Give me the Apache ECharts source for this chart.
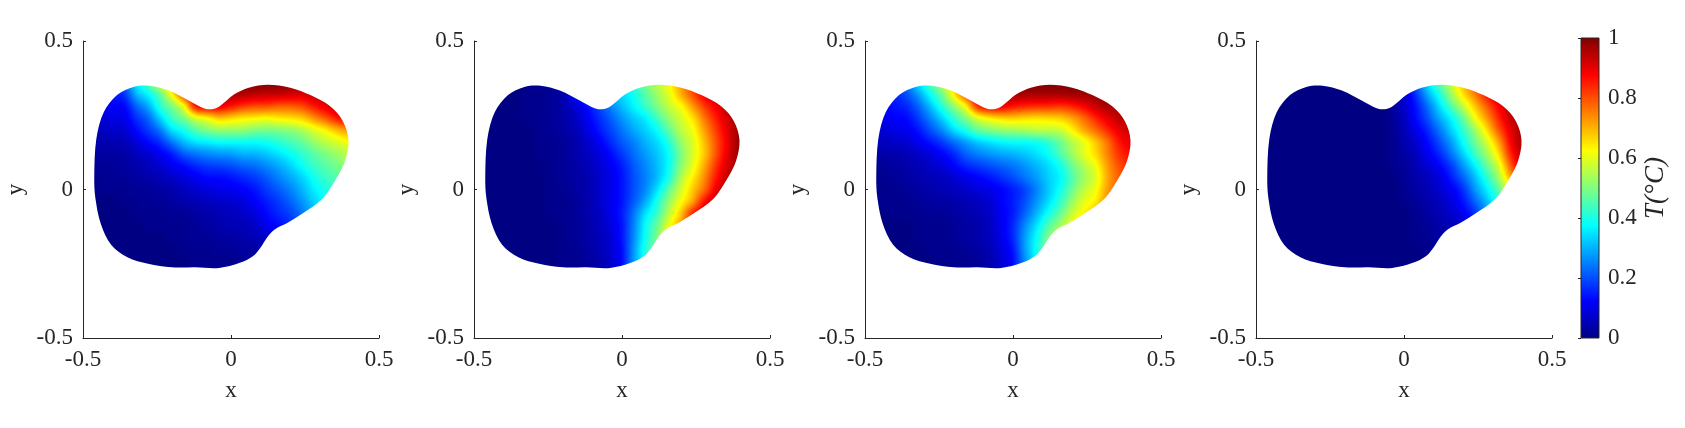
<!DOCTYPE html>
<html>
<head>
<meta charset="utf-8">
<title>T field</title>
<script src="https://cdn.jsdelivr.net/npm/echarts@6/dist/echarts.min.js"></script>
<style>
  html, body { margin: 0; padding: 0; background: #fff; }
  #main { width: 1685px; height: 428px; }
</style>
</head>
<body>
<div id="main"></div>
<script>
// sample positions of the temperature readings
var xSamples = [-0.48,-0.44,-0.40,-0.36,-0.32,-0.28,-0.24,-0.20,-0.16,-0.12,-0.08,-0.04,0,0.04,0.08,0.12,0.16,0.20,0.24,0.28,0.32,0.36,0.40];
var ySamples = [0.36,0.32,0.28,0.24,0.20,0.16,0.12,0.08,0.04,0,-0.04,-0.08,-0.12,-0.16,-0.20,-0.24,-0.28];

// temperature in percent of full scale, top row first
var tempA = [
[12,12,16,22,36,46,60,72,85,92,94,97,100,100,100,100,100,98,98,98,97,97,97],
[11,11,15,17,30,37,46,62,82,90,92,95,96,95,94,93,93,92,91,93,94,96,96],
[10,10,12,12,22,29,41,49,60,87,90,90,86,82,80,80,78,78,80,85,90,93,95],
[8,8,10,10,17,22,33,43,49,58,62,68,66,64,63,62,64,65,67,73,79,86,90],
[6,6,7,8,13,18,24,35,39,46,50,52,52,52,50,49,50,51,54,59,63,69,73],
[4,4,5,5,9,13,17,24,31,35,36,38,38,38,38,39,41,44,47,52,56,59,62],
[3,3,3,3,6,8,11,15,21,24,26,27,28,30,30,32,35,38,42,46,50,53,56],
[2,2,2,3,4,6,8,11,13,16,18,19,20,22,23,26,29,33,38,43,46,49,52],
[1,1,2,2,3,4,5,7,9,11,13,13,14,16,18,21,25,29,33,39,43,46,49],
[1,1,1,1,2,2,3,4,6,8,9,10,11,12,14,18,21,25,30,36,40,43,46],
[0,0,0,1,1,2,2,3,4,5,6,7,8,9,12,15,18,22,27,33,38,41,44],
[0,0,0,0,1,1,1,2,2,3,4,5,6,7,9,13,16,19,24,30,35,38,42],
[0,0,0,0,0,1,1,1,1,2,3,4,5,5,7,11,13,16,21,27,32,36,40],
[0,0,0,0,0,0,0,1,1,2,2,3,3,4,5,7,10,13,18,24,30,34,38],
[0,0,0,0,0,0,0,0,1,1,1,2,2,3,3,4,7,10,15,20,26,30,34],
[0,0,0,0,0,0,0,0,0,1,1,1,1,2,2,2,5,8,12,17,22,26,30],
[0,0,0,0,0,0,0,0,0,0,1,1,1,1,1,1,3,5,10,14,18,22,26]
];
var tempB = [
[0,0,0,0,1,1,2,3,5,8,14,22,33,42,50,56,62,72,80,88,92,96,98],
[0,0,0,0,1,1,2,4,12,19,24,29,34,39,46,53,60,70,80,89,93,96,98],
[0,0,0,0,1,1,2,4,8,13,19,25,31,37,43,50,57,62,72,82,89,95,98],
[0,0,0,0,1,1,2,3,6,11,16,21,27,32,36,44,52,58,65,76,85,92,98],
[0,0,0,0,0,1,2,3,5,9,14,19,24,29,33,38,47,56,61,72,82,91,98],
[0,0,0,0,0,1,1,2,4,7,11,16,21,25,30,34,41,52,59,69,80,90,99],
[0,0,0,0,0,1,1,2,4,6,9,13,18,23,28,32,38,50,59,68,80,91,98],
[0,0,0,0,0,0,1,2,3,5,8,11,15,21,26,31,38,51,60,71,83,92,98],
[0,0,0,0,0,0,1,2,3,4,7,10,14,20,25,31,40,55,64,74,86,94,98],
[0,0,0,0,0,0,1,1,3,4,7,10,14,20,26,35,47,58,68,77,90,96,98],
[0,0,0,0,0,0,1,1,2,4,7,10,14,21,29,40,52,62,71,87,94,98,98],
[0,0,0,0,0,0,1,1,2,4,6,10,15,24,35,43,56,68,85,92,95,98,98],
[0,0,0,0,0,0,0,1,2,3,6,9,14,25,38,48,61,72,85,92,95,98,98],
[0,0,0,0,0,0,0,1,2,3,5,8,14,26,39,50,63,74,85,92,95,98,98],
[0,0,0,0,0,0,0,1,1,3,5,8,13,27,41,50,60,70,80,90,90,95,95],
[0,0,0,0,0,0,0,1,1,2,4,7,13,28,40,50,60,70,80,90,90,95,95],
[0,0,0,0,0,0,0,1,1,2,4,7,13,28,40,50,60,70,80,90,90,95,95]
];
var tempC = [
[14,14,18,24,35,45,56,66,80,92,95,97,100,100,100,100,100,100,100,100,100,100,100],
[12,12,16,20,28,38,48,64,80,90,93,95,96,96,96,96,96,97,97,98,99,98,96],
[12,12,14,16,22,31,41,51,62,84,90,90,86,84,83,83,82,84,88,93,96,96,95],
[11,11,12,13,18,25,33,42,50,59,63,66,67,66,65,66,67,71,77,84,90,94,94],
[8,8,10,11,14,20,26,34,40,47,50,52,53,54,56,56,57,63,71,77,84,90,93],
[6,6,7,8,11,14,18,23,28,32,35,37,38,38,39,42,48,55,60,68,76,86,90],
[4,4,4,5,7,9,12,16,22,25,27,29,30,32,35,38,45,53,60,66,75,83,87],
[2,2,3,4,5,7,9,12,16,18,20,22,24,27,30,34,39,48,55,61,72,80,85],
[1,1,2,3,4,5,6,8,10,12,14,17,20,24,28,33,37,45,53,59,71,79,84],
[1,1,1,2,3,4,5,6,7,9,10,12,15,19,25,32,39,48,56,61,72,79,84],
[1,1,1,1,2,3,3,4,5,6,8,12,15,20,27,34,42,52,60,64,74,80,84],
[0,0,1,1,1,2,2,3,4,5,7,11,15,22,30,39,47,57,63,70,76,80,84],
[0,0,0,0,1,1,1,2,3,4,6,11,16,26,35,45,53,62,70,75,80,82,84],
[0,0,0,0,1,1,1,2,3,4,6,10,16,28,38,50,58,65,70,75,80,82,84],
[0,0,0,0,0,1,1,1,2,3,5,9,14,28,39,50,58,65,70,75,80,82,84],
[0,0,0,0,0,0,1,1,1,2,4,8,13,26,38,48,56,62,68,75,80,82,84],
[0,0,0,0,0,0,1,1,1,2,4,8,13,26,38,48,56,62,68,75,80,82,84]
];
var tempD = [
[0,0,0,0,0,0,0,0,0,0,0,3,11,21,35,46,57,69,79,88,93,97,98],
[0,0,0,0,0,0,0,0,0,0,0,3,8,17,29,40,53,65,75,86,93,97,98],
[0,0,0,0,0,0,0,0,0,0,0,2,7,14,23,34,45,56,68,78,88,95,98],
[0,0,0,0,0,0,0,0,0,0,0,2,6,13,20,29,37,47,61,72,84,93,97],
[0,0,0,0,0,0,0,0,0,0,0,1,5,10,16,24,33,42,52,65,79,90,96],
[0,0,0,0,0,0,0,0,0,0,0,1,4,8,13,20,28,38,48,58,71,88,96],
[0,0,0,0,0,0,0,0,0,0,0,1,3,6,11,16,24,33,43,53,65,84,94],
[0,0,0,0,0,0,0,0,0,0,0,1,2,5,8,12,18,27,36,47,58,78,92],
[0,0,0,0,0,0,0,0,0,0,0,0,2,4,6,9,15,22,31,41,53,70,88],
[0,0,0,0,0,0,0,0,0,0,0,0,1,3,5,8,11,17,27,36,46,62,80],
[0,0,0,0,0,0,0,0,0,0,0,0,1,2,4,6,9,14,22,31,42,55,72],
[0,0,0,0,0,0,0,0,0,0,0,0,0,1,3,5,7,11,17,27,38,50,65],
[0,0,0,0,0,0,0,0,0,0,0,0,0,1,2,4,5,8,14,24,34,45,60],
[0,0,0,0,0,0,0,0,0,0,0,0,0,1,1,3,4,6,11,20,30,40,55],
[0,0,0,0,0,0,0,0,0,0,0,0,0,0,1,2,3,5,10,18,26,36,50],
[0,0,0,0,0,0,0,0,0,0,0,0,0,0,1,2,3,5,10,18,26,36,50],
[0,0,0,0,0,0,0,0,0,0,0,0,0,0,1,2,3,5,10,18,26,36,50]
];

// outline of the domain, clockwise from the left edge
var outlineX = [-0.462,-0.455,-0.430,-0.385,-0.330,-0.275,-0.210,-0.140,-0.090,-0.060,-0.035,0.010,0.060,0.125,0.200,0.270,0.335,0.378,0.397,0.385,0.355,0.310,0.240,0.190,0.150,0.125,0.100,0.075,0.030,-0.040,-0.120,-0.200,-0.280,-0.350,-0.405,-0.440,-0.458];
var outlineY = [0.040,0.170,0.260,0.318,0.345,0.349,0.333,0.298,0.273,0.271,0.283,0.320,0.343,0.353,0.343,0.317,0.280,0.230,0.165,0.095,0.035,-0.030,-0.082,-0.113,-0.133,-0.157,-0.195,-0.224,-0.247,-0.264,-0.262,-0.262,-0.250,-0.228,-0.186,-0.115,-0.030];

var panelTemps = [tempA, tempB, tempC, tempD];
var panelLefts = [83, 474, 865, 1256];

var jetStops = [0, 0.125, 0.375, 0.625, 0.875, 1];
var jetColors = ['#000083', '#0000ff', '#00ffff', '#ffff00', '#ff0000', '#800000'];
var barValues = [0, 1];

var FONT = '"Liberation Serif", serif';
var INK = '#262626';

function hexRgb(h) {
    return [parseInt(h.substr(1, 2), 16), parseInt(h.substr(3, 2), 16), parseInt(h.substr(5, 2), 16)];
}

// 256 entry colour table
var lut = [];
for (var i = 0; i < 256; i++) {
    var t = i / 255, k = 0;
    while (k < jetStops.length - 2 && t > jetStops[k + 1]) k++;
    var f = (t - jetStops[k]) / (jetStops[k + 1] - jetStops[k]);
    var a = hexRgb(jetColors[k]), b = hexRgb(jetColors[k + 1]);
    lut.push([a[0] + (b[0] - a[0]) * f, a[1] + (b[1] - a[1]) * f, a[2] + (b[2] - a[2]) * f]);
}

// readings go in as one grey pixel each, the browser's image smoothing scales
// them up, then the grey levels are painted with the colour table
function paintField(rows, w, h) {
    var nx = xSamples.length, ny = ySamples.length;
    var small = document.createElement('canvas');
    small.width = nx; small.height = ny;
    var sc = small.getContext('2d');
    var img = sc.createImageData(nx, ny);
    for (var r = 0; r < ny; r++) {
        for (var c = 0; c < nx; c++) {
            var g = Math.round(rows[r][c] * 2.55), p = (r * nx + c) * 4;
            img.data[p] = img.data[p + 1] = img.data[p + 2] = g;
            img.data[p + 3] = 255;
        }
    }
    sc.putImageData(img, 0, 0);
    var big = document.createElement('canvas');
    big.width = w; big.height = h;
    var bc = big.getContext('2d', { willReadFrequently: true });
    bc.imageSmoothingEnabled = true;
    bc.imageSmoothingQuality = 'high';
    bc.drawImage(small, 0, 0, w, h);
    var out = bc.getImageData(0, 0, w, h);
    for (var q = 0; q < out.data.length; q += 4) {
        var col = lut[out.data[q]];
        out.data[q] = col[0]; out.data[q + 1] = col[1]; out.data[q + 2] = col[2]; out.data[q + 3] = 255;
    }
    bc.putImageData(out, 0, 0);
    return big;
}

var grids = [], xAxes = [], yAxes = [], series = [];
var axisLine = { onZero: false, lineStyle: { color: INK, width: 1 } };
var tick = { inside: true, length: 3, lineStyle: { color: INK, width: 1 } };
var label = { color: INK, fontFamily: FONT, fontSize: 23 };

panelTemps.forEach(function (rows, idx) {
    grids.push({ left: panelLefts[idx], top: 41, width: 296, height: 297 });
    xAxes.push({
        gridIndex: idx, type: 'value', min: -0.5, max: 0.5, interval: 0.5, position: 'bottom',
        name: 'x', nameLocation: 'middle', nameGap: 41,
        nameTextStyle: { color: INK, fontFamily: FONT, fontSize: 23 },
        axisLine: axisLine, axisTick: tick, splitLine: { show: false },
        axisLabel: Object.assign({ margin: 10 }, label)
    });
    yAxes.push({
        gridIndex: idx, type: 'value', min: -0.5, max: 0.5, interval: 0.5, position: 'left',
        name: 'y', nameLocation: 'middle', nameGap: 56,
        nameTextStyle: { color: INK, fontFamily: FONT, fontSize: 23 },
        axisLine: axisLine, axisTick: tick, splitLine: { show: false },
        axisLabel: Object.assign({ margin: 10 }, label)
    });
    var cells = [];
    rows.forEach(function (row, r) {
        row.forEach(function (v, c) { cells.push([xSamples[c], ySamples[r], v / 100]); });
    });
    var field = null;
    series.push({
        type: 'custom', coordinateSystem: 'cartesian2d', xAxisIndex: idx, yAxisIndex: idx,
        silent: true, animation: false, clip: false, data: cells,
        encode: { x: 0, y: 1 },
        renderItem: function (params, api) {
            // all cells of a panel go into one image, so only the first one returns it
            if (params.dataIndex !== 0) return null;
            var halfX = (xSamples[1] - xSamples[0]) / 2;
            var halfY = (ySamples[0] - ySamples[1]) / 2;
            var tl = api.coord([xSamples[0] - halfX, ySamples[0] + halfY]);
            var br = api.coord([xSamples[xSamples.length - 1] + halfX, ySamples[ySamples.length - 1] - halfY]);
            var w = Math.round(br[0] - tl[0]), h = Math.round(br[1] - tl[1]);
            if (!field) field = paintField(rows, w, h);
            var pts = outlineX.map(function (x, n) { return api.coord([x, outlineY[n]]); });
            return {
                type: 'image',
                style: { image: field, x: tl[0], y: tl[1], width: w, height: h },
                clipPath: { type: 'polygon', shape: { points: pts, smooth: 0.33 } }
            };
        }
    });
});

// colour bar
var bar = panelTemps.length;
grids.push({ left: 1581, top: 38, width: 18, height: 300 });
xAxes.push({ gridIndex: bar, type: 'value', min: 0, max: 1, show: false });
yAxes.push({
    gridIndex: bar, type: 'value', min: 0, max: 1, interval: 0.2, position: 'right', z: 10,
    name: 'T(°C)', nameLocation: 'middle', nameGap: 43, nameRotate: 90,
    nameTextStyle: { color: INK, fontFamily: FONT, fontSize: 27, fontStyle: 'italic' },
    axisLine: { show: false },
    axisTick: { inside: true, length: 3, lineStyle: { color: INK, width: 1 } },
    splitLine: { show: false },
    axisLabel: Object.assign({ margin: 9 }, label)
});
series.push({
    type: 'custom', coordinateSystem: 'cartesian2d', xAxisIndex: bar, yAxisIndex: bar,
    silent: true, animation: false, data: [barValues],
    renderItem: function (params, api) {
        var a = api.coord([0, barValues[0]]), b = api.coord([1, barValues[1]]);
        return {
            type: 'rect',
            shape: { x: a[0], y: b[1], width: b[0] - a[0], height: a[1] - b[1] },
            style: {
                stroke: INK, lineWidth: 1,
                fill: new echarts.graphic.LinearGradient(0, 1, 0, 0, jetStops.map(function (s, n) {
                    return { offset: s, color: jetColors[n] };
                }))
            }
        };
    }
});

var chart = echarts.init(document.getElementById('main'));
chart.setOption({
    animation: false,
    backgroundColor: '#fff',
    grid: grids, xAxis: xAxes, yAxis: yAxes, series: series
});
</script>
</body>
</html>
